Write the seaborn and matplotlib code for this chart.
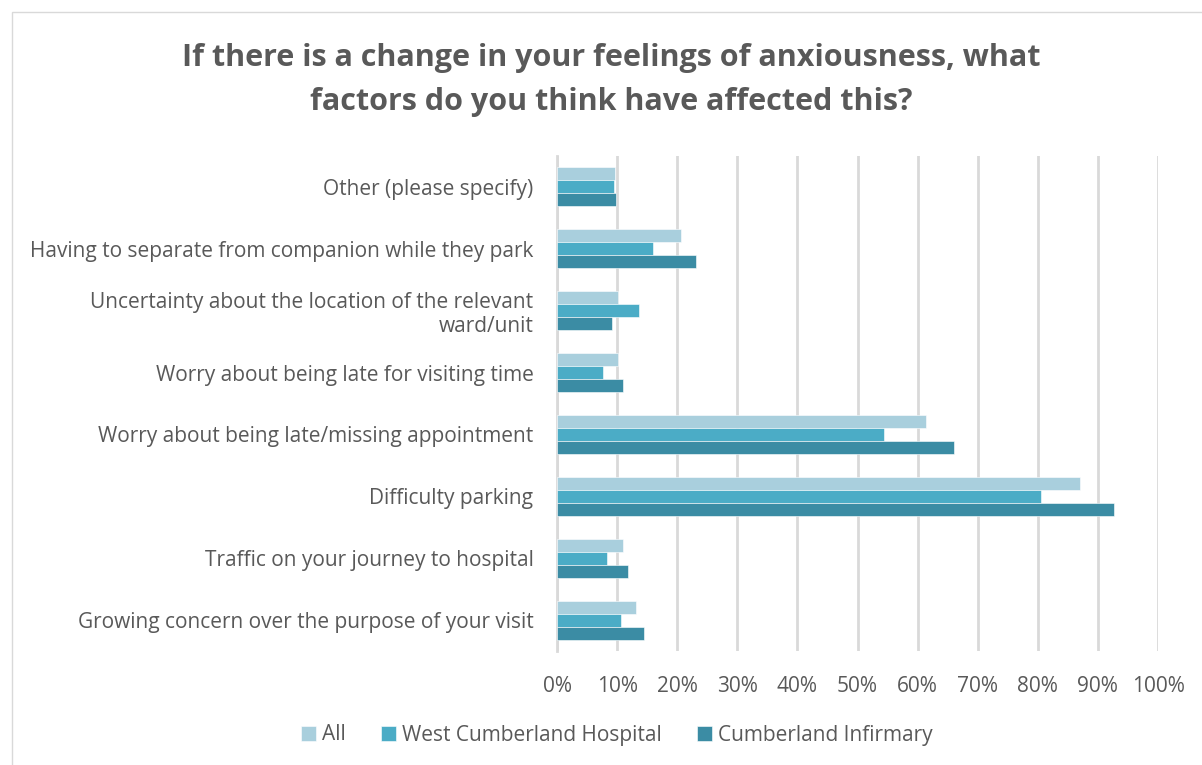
import pandas as pd
import matplotlib.pyplot as plt
import seaborn as sns
from matplotlib.ticker import PercentFormatter
from matplotlib.patches import Rectangle

# Answer options, top to bottom as shown
factors = [
    "Other (please specify)",
    "Having to separate from companion while they park",
    "Uncertainty about the location of the relevant\nward/unit",
    "Worry about being late for visiting time",
    "Worry about being late/missing appointment",
    "Difficulty parking",
    "Traffic on your journey to hospital",
    "Growing concern over the purpose of your visit",
]
groups = ["All", "West Cumberland Hospital", "Cumberland Infirmary"]

# Share of respondents (%)
all_pct = [9.7, 20.7, 10.1, 10.1, 61.4, 87.1, 10.9, 13.2]
west_pct = [9.5, 16.0, 13.6, 7.7, 54.4, 80.6, 8.3, 10.7]
infirmary_pct = [9.9, 23.1, 9.1, 11.0, 66.1, 92.6, 11.8, 14.5]

colors = ["#a9cfdd", "#4bacc6", "#3b8ca4"]
text_grey = "#595959"

# Build long table for seaborn
rows = []
for grp, vals in zip(groups, [all_pct, west_pct, infirmary_pct]):
    for f, v in zip(factors, vals):
        rows.append({"factor": f, "group": grp, "pct": v})
df = pd.DataFrame(rows)

plt.rcParams["font.family"] = ["Open Sans", "DejaVu Sans"]

fig = plt.figure(figsize=(12.02, 7.65), dpi=100)
ax = fig.add_axes([557 / 1202, 1 - 651 / 765, (1158 - 557) / 1202, (651 - 156) / 765])

sns.barplot(data=df, x="pct", y="factor", hue="group", order=factors,
            hue_order=groups, palette=colors, orient="h", width=0.63,
            saturation=1, ax=ax, zorder=3, edgecolor="white", linewidth=0.4)

ax.set_xlim(0, 100)
ax.set_xticks(range(0, 101, 10))
ax.xaxis.set_major_formatter(PercentFormatter(decimals=0))
ax.grid(axis="x", color="#d9d9d9", linewidth=2, zorder=0)
ax.set_axisbelow(True)
for s in ["top", "right", "bottom"]:
    ax.spines[s].set_visible(False)
ax.spines["left"].set_color("#d9d9d9")
ax.spines["left"].set_linewidth(2)
ax.tick_params(axis="both", length=0, labelsize=15, colors=text_grey)
ax.tick_params(axis="x", pad=18)
ax.tick_params(axis="y", pad=17)
ax.set_xlabel("")
ax.set_ylabel("")

ax.legend(loc="center", bbox_to_anchor=(617 / 1202, 1 - 735 / 765),
          bbox_transform=fig.transFigure, ncol=3, frameon=False,
          fontsize=15, labelcolor=text_grey, handlelength=0.7,
          handleheight=0.7, handletextpad=0.3, columnspacing=1.7)

fig.text(611 / 1202, 1 - 80 / 765,
         "If there is a change in your feelings of anxiousness, what\nfactors do you think have affected this?",
         ha="center", va="center", fontsize=22, fontweight="bold",
         color=text_grey, linespacing=1.6)

fig.patches.append(Rectangle((12 / 1202, -0.01), 1.0, 1 - 12 / 765 + 0.01,
                             transform=fig.transFigure, fill=False,
                             edgecolor="#d9d9d9", linewidth=1))

fig.savefig("out.png", dpi=100)
